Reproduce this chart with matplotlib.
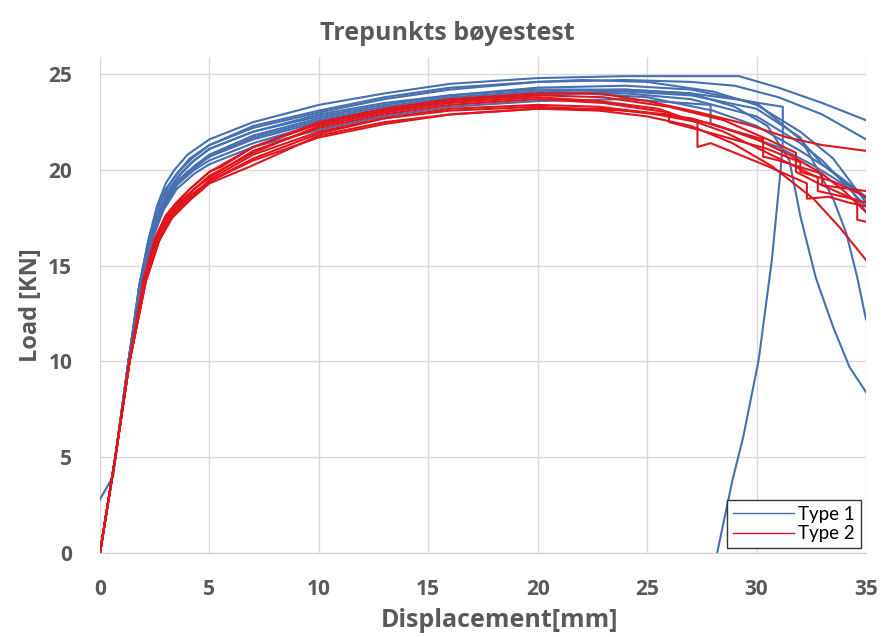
import matplotlib
matplotlib.use("Agg")
import matplotlib.pyplot as plt
from matplotlib.lines import Line2D

# Type 1 curves (displacement [mm], load [kN])
b1_x = [0, 0.7, 1.3, 1.8, 2.2, 2.6, 3.0, 3.4, 4.0, 5, 7, 10, 13, 16, 20, 24, 27, 29.2, 31, 33, 35]
b1_y = [0, 5, 10, 14.0, 16.3, 18.1, 19.3, 20.0, 20.8, 21.6, 22.5, 23.4, 24.0, 24.5, 24.8, 24.9, 24.9, 24.9, 24.3, 23.5, 22.6]
b2_x = [0, 0.7, 1.3, 1.8, 2.2, 2.6, 3.0, 3.5, 4.1, 5, 7, 10, 13, 16, 20, 24, 27, 29, 31, 33, 35]
b2_y = [0, 5, 10, 14.0, 16.2, 17.9, 19.0, 19.8, 20.6, 21.3, 22.3, 23.1, 23.8, 24.3, 24.6, 24.7, 24.6, 24.4, 23.8, 22.9, 21.6]
b3_x = [0, 0.7, 1.3, 1.85, 2.3, 2.7, 3.1, 3.6, 4.2, 5, 7, 10, 13, 16, 20, 24, 27, 29, 31.2, 31.2, 31.1, 30.7, 30.1, 29.4, 28.9, 28.2]
b3_y = [0, 5, 10, 14.1, 16.3, 17.8, 18.9, 19.7, 20.4, 21.1, 22.0, 22.9, 23.5, 23.9, 24.2, 24.2, 24.0, 23.7, 23.3, 21.5, 20.0, 15.3, 10.1, 6.1, 3.8, 0]
b4_x = [0, 0.7, 1.3, 1.85, 2.3, 2.7, 3.2, 3.7, 4.3, 5, 7, 10, 13, 16, 20, 24, 27, 29, 30.5, 31.5, 32.0, 32.7, 33.5, 34.25, 35]
b4_y = [0, 5, 10, 14.2, 16.4, 17.8, 18.9, 19.6, 20.2, 20.8, 21.8, 22.7, 23.3, 23.8, 24.1, 24.2, 24.0, 23.3, 22.3, 20.5, 17.6, 14.4, 11.8, 9.7, 8.4]
b5_x = [0, 0.6, 1.3, 1.9, 2.3, 2.8, 3.2, 3.7, 4.3, 5, 7, 10, 13, 16, 20, 24, 27, 30, 32, 33.5, 34.1, 34.6, 35]
b5_y = [2.8, 4.0, 10, 14.3, 16.3, 17.8, 18.7, 19.5, 20.1, 20.7, 21.7, 22.6, 23.2, 23.7, 24.0, 24.1, 23.9, 23.2, 21.7, 18.5, 16.7, 14.4, 12.2]
b6_x = [0, 0.7, 1.35, 1.95, 2.4, 2.9, 3.5, 4.3, 5, 7, 10, 13, 16, 20, 24, 27, 30, 32, 33, 34, 35]
b6_y = [0, 5, 10, 14.5, 16.5, 18.0, 19.2, 20.0, 20.5, 21.4, 22.4, 23.1, 23.6, 24.0, 24.0, 23.7, 22.8, 21.4, 20.5, 19.3, 18.1]
b7_x = [0, 0.7, 1.3, 1.85, 2.3, 2.7, 3.2, 3.7, 4.3, 5, 7, 10, 13, 16, 20, 24, 27, 30, 32, 33, 34, 35]
b7_y = [0, 5, 10, 14.2, 16.4, 17.9, 19.0, 19.8, 20.5, 21.1, 22.0, 22.8, 23.4, 23.9, 24.3, 24.4, 24.2, 23.5, 21.6, 20.3, 19.4, 18.5]
b8_x = [0, 0.7, 1.35, 1.95, 2.4, 2.9, 3.5, 4.3, 5, 7, 10, 13, 16, 20, 24, 27.9, 27.9, 29, 31, 32.5, 33.5, 34.3, 35]
b8_y = [0, 5, 10, 14.4, 16.4, 17.9, 19.0, 19.8, 20.3, 21.2, 22.1, 22.8, 23.3, 23.6, 23.7, 23.4, 22.4, 22.0, 21.2, 20.3, 19.6, 19.0, 17.8]
b9_x = [0, 0.7, 1.3, 1.8, 2.2, 2.6, 3.1, 3.6, 4.2, 5, 7, 10, 13, 16, 20, 22, 25, 28, 30, 32, 33.5, 35]
b9_y = [0, 5, 10, 14.0, 16.2, 17.9, 19.1, 19.9, 20.6, 21.3, 22.2, 23.0, 23.7, 24.2, 24.6, 24.7, 24.6, 24.1, 23.4, 22.0, 20.6, 18.3]
b10_x = [0, 0.7, 1.35, 1.9, 2.35, 2.8, 3.3, 3.9, 4.5, 5, 7, 10, 13, 16, 20, 22, 25, 28, 30, 32, 33.5, 35]
b10_y = [0, 5, 10, 14.3, 16.4, 17.9, 19.0, 19.8, 20.3, 20.7, 21.6, 22.5, 23.1, 23.6, 23.9, 24.0, 23.8, 23.1, 22.3, 21.0, 19.9, 18.6]

# Type 2 curves
r1_x = [0, 0.7, 1.35, 2.0, 2.5, 3.0, 3.5, 4.1, 5, 5.6, 7, 10, 13, 16, 20, 22.8, 25, 27.4, 29.5, 31.4, 33, 35]
r1_y = [0, 5, 10, 14.3, 16.4, 17.6, 18.3, 19.0, 19.9, 20.2, 21.2, 22.5, 23.2, 23.7, 24.0, 24.0, 23.6, 23.0, 22.4, 21.7, 21.3, 21.0]
r2_x = [0, 0.7, 1.35, 2.05, 2.6, 3.1, 3.6, 4.2, 5, 6, 7, 10, 13, 16, 20, 22.8, 25.5, 26.0, 26.0, 28, 30.5, 32.0, 32.0, 33.5, 35]
r2_y = [0, 5, 10, 14.3, 16.5, 17.6, 18.3, 18.9, 19.7, 20.3, 20.9, 22.3, 23.0, 23.5, 23.8, 23.6, 23.2, 23.0, 22.5, 21.9, 21.1, 20.4, 19.9, 19.4, 18.6]
r3_x = [0, 0.7, 1.35, 2.1, 2.7, 3.2, 3.8, 4.5, 5, 6, 7, 10, 13, 16, 20, 22.8, 25, 27.3, 27.3, 27.9, 29, 30.5, 32.3, 32.3, 33.3, 34.2, 35]
r3_y = [0, 5, 10, 14.3, 16.5, 17.6, 18.4, 19.0, 19.4, 20.0, 20.6, 21.9, 22.7, 23.2, 23.4, 23.3, 23.0, 22.5, 21.2, 21.4, 20.9, 20.2, 19.3, 18.5, 18.6, 18.3, 18.1]
r4_x = [0, 0.7, 1.35, 2.1, 2.7, 3.2, 3.8, 4.5, 5, 6.9, 10, 13, 16, 20, 22.8, 25, 27, 28.9, 30.7, 32.6, 33.8, 35]
r4_y = [0, 5, 10, 14.2, 16.3, 17.4, 18.2, 18.8, 19.3, 20.2, 21.8, 22.5, 22.9, 23.2, 23.1, 22.8, 22.3, 21.4, 20.2, 18.5, 17.0, 15.3]
r5_x = [0, 0.7, 1.35, 2.0, 2.5, 3.0, 3.5, 4.1, 5, 7, 10, 13, 16, 20, 23, 26, 28.5, 30.5, 31.8, 31.8, 33, 34.6, 34.6, 35]
r5_y = [0, 5, 10, 14.3, 16.4, 17.6, 18.3, 19.0, 19.9, 21.2, 22.4, 23.1, 23.6, 23.9, 23.8, 23.3, 22.6, 21.6, 20.9, 19.9, 19.2, 18.4, 17.4, 17.3]
r6_x = [0, 0.7, 1.35, 2.05, 2.6, 3.1, 3.7, 4.3, 5, 7, 10, 13, 16, 20, 23, 26, 28.5, 31.2, 32.8, 32.8, 34, 35]
r6_y = [0, 5, 10, 14.3, 16.4, 17.5, 18.3, 19.0, 19.6, 21.0, 22.2, 22.9, 23.4, 23.7, 23.5, 23.0, 22.0, 20.5, 19.6, 18.9, 18.6, 18.3]
r7_x = [0, 0.7, 1.35, 2.1, 2.7, 3.3, 4.0, 5, 7, 10, 13, 16, 20, 23, 26, 28, 30, 31.5, 33, 34, 35]
r7_y = [0, 5, 10, 14.2, 16.3, 17.5, 18.3, 19.4, 20.5, 21.7, 22.4, 22.9, 23.2, 23.2, 22.9, 22.4, 21.6, 20.8, 19.8, 18.9, 17.8]
r8_x = [0, 0.7, 1.35, 2.1, 2.7, 3.2, 3.8, 4.5, 5, 7, 10, 13, 16, 20, 24, 27, 30.3, 30.3, 31, 33, 33, 35]
r8_y = [0, 5, 10, 14.3, 16.4, 17.5, 18.3, 18.9, 19.5, 20.8, 22.0, 22.7, 23.1, 23.3, 23.1, 22.7, 21.6, 20.7, 20.5, 19.8, 19.2, 18.9]

type1 = [(b1_x, b1_y), (b2_x, b2_y), (b3_x, b3_y), (b4_x, b4_y), (b5_x, b5_y),
         (b6_x, b6_y), (b7_x, b7_y), (b8_x, b8_y), (b9_x, b9_y), (b10_x, b10_y)]
type2 = [(r1_x, r1_y), (r2_x, r2_y), (r3_x, r3_y), (r4_x, r4_y),
         (r5_x, r5_y), (r6_x, r6_y), (r7_x, r7_y), (r8_x, r8_y)]

blue = '#4670b2'
red = '#e0161c'
grey = '#595959'

fig = plt.figure(figsize=(8.85, 6.37), dpi=100)
ax = fig.add_axes([0.113, 0.132, 0.8655, 0.7785])

for xs, ys in type1:
    ax.plot(xs, ys, color=blue, lw=1.5)
for xs, ys in type2:
    ax.plot(xs, ys, color=red, lw=1.5)

ax.set_xlim(0, 35)
ax.set_ylim(0, 25.9)
ax.set_xticks(range(0, 36, 5))
ax.set_yticks(range(0, 26, 5))
ax.grid(True, color='#d9d9d9', lw=1)
ax.set_axisbelow(True)
for s in ['top', 'right', 'left']:
    ax.spines[s].set_visible(False)
ax.spines['bottom'].set_color('#d0d0d0')
ax.tick_params(length=0, labelsize=15, labelcolor=grey)
ax.tick_params(axis='x', pad=19)
ax.tick_params(axis='y', pad=20)
for lab in ax.get_xticklabels() + ax.get_yticklabels():
    lab.set_fontweight('bold')
    lab.set_fontfamily('Open Sans')

ax.set_xlabel('Displacement[mm]', fontsize=18, fontweight='bold', color=grey,
              family='Open Sans')
ax.xaxis.set_label_coords(0.521, -0.112)
ax.set_ylabel('Load [KN]', fontsize=17, fontweight='bold', color=grey,
              family='Open Sans', labelpad=4)
fig.text(0.506, 0.948, 'Trepunkts bøyestest', ha='center', va='center',
         fontsize=18, fontweight='bold', color=grey, family='Open Sans')

handles = [Line2D([], [], color=blue, lw=1), Line2D([], [], color=red, lw=1)]
leg = ax.legend(handles, ['Type 1', 'Type 2'], loc='lower right',
                bbox_to_anchor=(0.993, 0.01), fancybox=False, framealpha=1,
                edgecolor='#333333', prop={'family': 'Lato', 'size': 13.5},
                handlelength=3.3, borderpad=0.3, labelspacing=0.15,
                handletextpad=0.2, borderaxespad=0)
leg.get_frame().set_linewidth(1)

fig.savefig('out.png', dpi=100)
